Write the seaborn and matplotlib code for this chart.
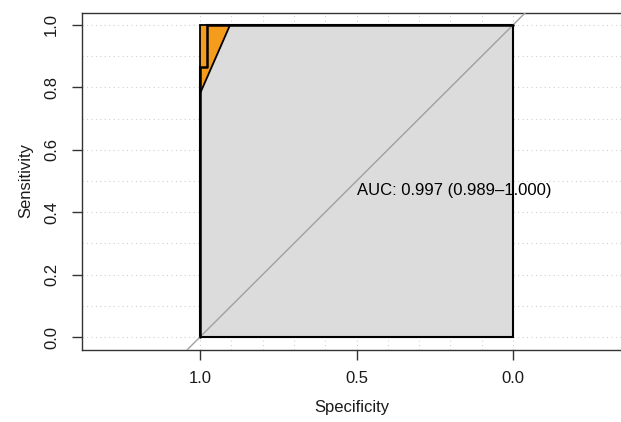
import matplotlib
matplotlib.use("Agg")
import matplotlib.pyplot as plt
import seaborn as sns
import pandas as pd
import numpy as np

# ---- data ----
roc_specificity = [1.0, 1.0, 0.977, 0.977, 0.0]
roc_sensitivity = [0.0, 0.866, 0.866, 1.0, 1.0]
ci_specificity = [1.0, 0.904, 1.0]
ci_sensitivity = [1.0, 1.0, 0.78]
auc_label = "AUC: 0.997 (0.989\u20131.000)"
y_ticks = [0.0, 0.2, 0.4, 0.6, 0.8, 1.0]
y_tick_labels = ["0.0", "0.2", "0.4", "0.6", "0.8", "1.0"]
x_ticks = [1.0, 0.5, 0.0]
x_tick_labels = ["1.0", "0.5", "0.0"]

sns.set_style("white")
plt.rcParams["font.family"] = ["Liberation Sans", "DejaVu Sans"]

fig = plt.figure(figsize=(6.21, 4.22), dpi=100)
ax = fig.add_axes([82 / 621, (422 - 349.5) / 422, (621 - 82) / 621, 337 / 422])

# grid
for g in np.round(np.arange(0, 1.01, 0.1), 2):
    ax.axhline(g, color="#d0d0d0", lw=0.8, ls=(0, (1, 3)), zorder=0)
    ax.axvline(g, color="#d0d0d0", lw=0.8, ls=(0, (1, 3)), zorder=0)

# AUC polygon
poly_x = roc_specificity + [0.0, 1.0]
poly_y = roc_sensitivity + [0.0, 0.0]
ax.fill(poly_x, poly_y, facecolor="#dcdcdc", edgecolor="black", lw=1.5, zorder=1)

# CI shape
ax.fill(ci_specificity, ci_sensitivity, facecolor="#f59c1c", edgecolor="black", lw=1.3, zorder=2)

# diagonal
ax.plot([1.1, -0.1], [-0.1, 1.1], color="#a0a0a0", lw=1.0, zorder=3)

# ROC curve
df = pd.DataFrame({"Specificity": roc_specificity, "Sensitivity": roc_sensitivity})
sns.lineplot(data=df, x="Specificity", y="Sensitivity", sort=False, estimator=None,
             color="black", lw=1.8, ax=ax, zorder=4)
ax.set_xlim(1.377, -0.345)
ax.set_ylim(-0.04, 1.04)

ax.text(0.5, 0.455, auc_label, ha="left", va="baseline", fontsize=12, color="black", zorder=5)

ax.set_yticks(y_ticks)
ax.set_yticklabels(y_tick_labels, rotation=90, va="center", fontsize=12, color="#1a1a1a")
ax.set_xticks(x_ticks)
ax.set_xticklabels(x_tick_labels, fontsize=12, color="#1a1a1a")
ax.tick_params(axis="both", direction="out", length=7.5, width=1.0, color="#333333",
               left=True, bottom=True)
ax.tick_params(axis="y", pad=9)
ax.tick_params(axis="x", pad=8)

ax.set_xlabel("Specificity", fontsize=12, labelpad=10, color="#1a1a1a")
ax.set_ylabel("Sensitivity", fontsize=12, labelpad=8, color="#1a1a1a")

for s in ["left", "bottom", "top"]:
    ax.spines[s].set_visible(True)
    ax.spines[s].set_color("#333333")
    ax.spines[s].set_linewidth(1.0)
ax.spines["right"].set_visible(False)

fig.savefig("out.png", dpi=100)
